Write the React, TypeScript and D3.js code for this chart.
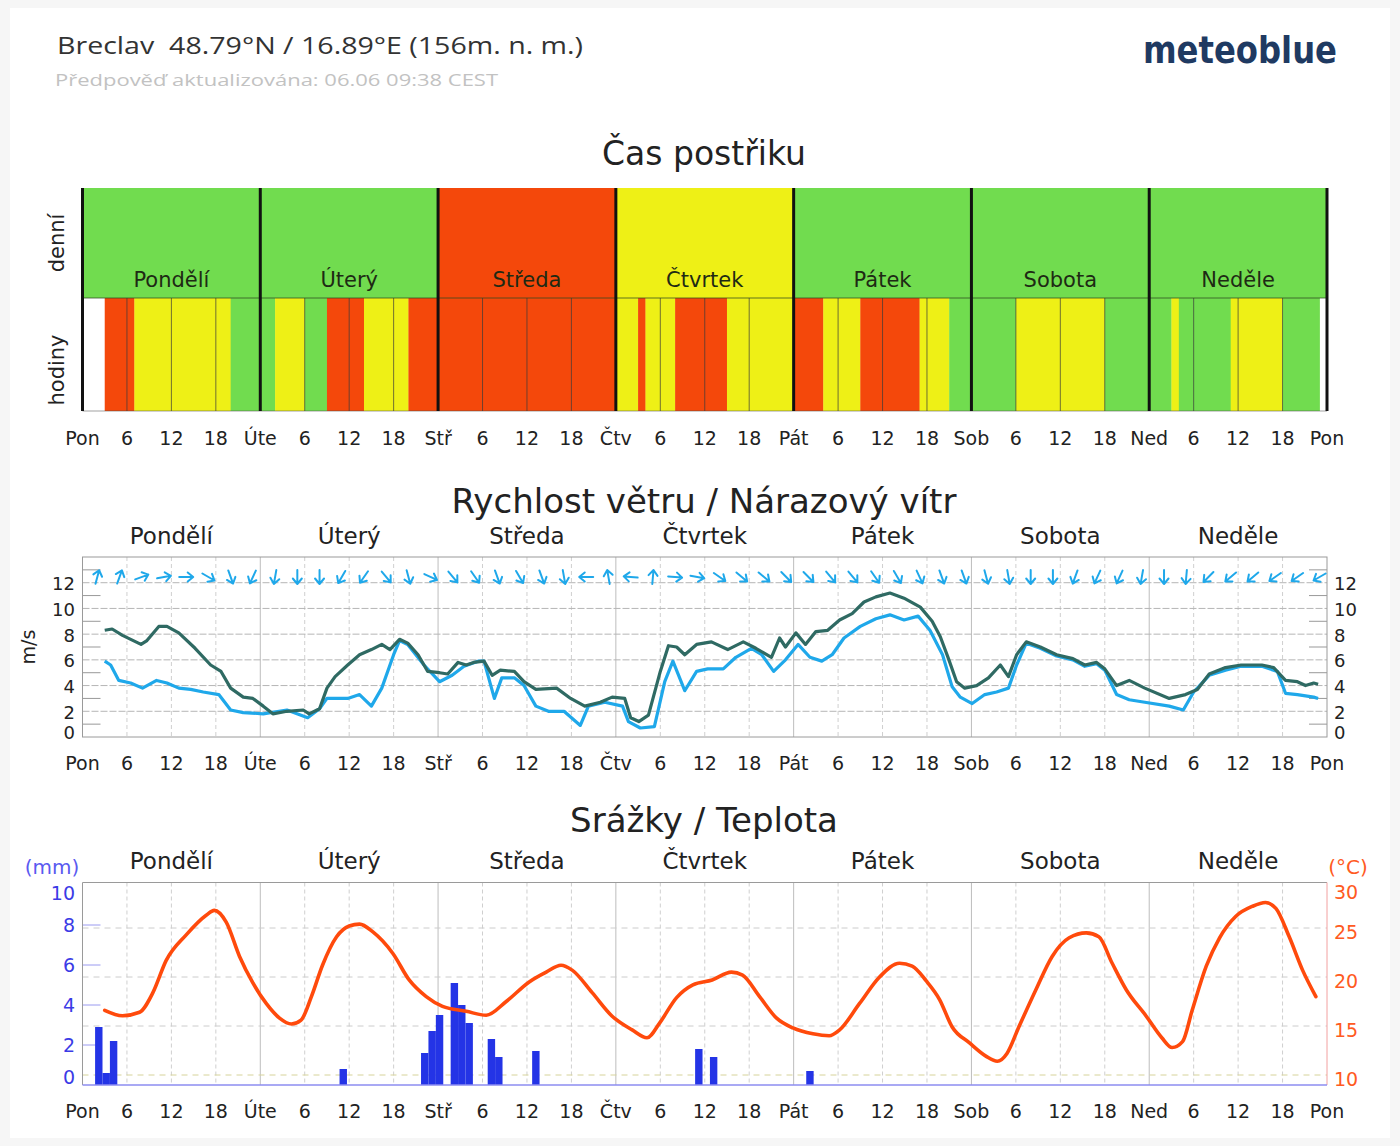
import React from "react";
import * as d3 from "d3";

// ---------- DATA ----------
const dayAbbr = ["Pon", "Úte", "Stř", "Čtv", "Pát", "Sob", "Ned", "Pon"];
const dayNames = ["Pondělí", "Úterý", "Středa", "Čtvrtek", "Pátek", "Sobota", "Neděle"];
const hourTicks = ["6", "12", "18"];

// spray suitability: G = good, Y = moderate, R = bad, n = no data
const dailySpray = ["G", "G", "R", "Y", "G", "G", "G"];
const hourlySprayRuns: [string, number][] = [
  ["n", 3], ["R", 4], ["Y", 13], ["G", 4],
  ["G", 2], ["Y", 4], ["G", 3], ["R", 5], ["Y", 6], ["R", 4],
  ["R", 24],
  ["Y", 3], ["R", 1], ["Y", 4], ["R", 7], ["Y", 9],
  ["R", 4], ["Y", 5], ["R", 8], ["Y", 4], ["G", 3],
  ["G", 6], ["Y", 12], ["G", 6],
  ["G", 3], ["Y", 1], ["G", 7], ["Y", 7], ["G", 5], ["n", 1],
];

// wind [hour, m/s]
const gustSeries: [number, number][] = [
  [3, 8.3], [4, 8.4], [5.4, 7.9], [7.9, 7.2], [8.7, 7.5], [10.3, 8.6], [11.4, 8.6], [13, 8.1], [15.2, 6.9], [17.3, 5.6],
  [18.7, 5.1], [20, 3.8], [21.7, 3.1], [23, 3.0], [24.4, 2.4], [25.7, 1.8], [27.6, 2.0], [29.8, 2.1], [30.6, 1.8], [32, 2.2],
  [33, 3.8], [34.1, 4.7], [35.8, 5.6], [37.4, 6.4], [39, 6.8], [40.4, 7.2], [41.5, 6.8], [42.8, 7.6], [43.9, 7.3], [45.3, 6.4],
  [46.6, 5.1], [48.2, 5.0], [49.3, 4.9], [50.7, 5.8], [51.8, 5.6], [52.8, 5.8], [54.2, 5.9], [55.3, 4.8], [56.4, 5.2], [58.3, 5.1],
  [59.6, 4.3], [61.2, 3.7], [64, 3.8], [65.9, 3.0], [67.8, 2.4], [69.9, 2.7], [71.5, 3.1], [73.2, 3.0], [74, 1.5], [75.1, 1.2],
  [76.4, 1.7], [78, 5.1], [79.1, 7.1], [80.2, 7.0], [81.3, 6.4], [82.9, 7.2], [84.9, 7.4], [87.1, 6.8], [89.2, 7.4], [90.9, 6.9],
  [93, 6.2], [94.1, 7.7], [94.9, 7.0], [96.3, 8.1], [97.6, 7.2], [99, 8.2], [100.6, 8.3], [102.2, 9.1], [103.9, 9.6], [105.5, 10.5],
  [107.1, 10.9], [109, 11.2], [110.9, 10.8], [113.1, 10.1], [114.7, 9.0], [115.8, 7.8], [116.9, 6.1], [118, 4.3], [119.1, 3.8], [120.7, 4.0],
  [122.3, 4.6], [123.9, 5.6], [125, 4.7], [126.1, 6.4], [127.4, 7.4], [129.3, 7.0], [131.5, 6.4], [133.7, 6.1], [135.3, 5.6], [136.9, 5.8],
  [138, 5.3], [139.6, 4.0], [141.3, 4.4], [143.4, 3.8], [146.7, 3.0], [148.9, 3.3], [150.5, 3.7], [152.1, 4.9], [154.3, 5.4], [156.4, 5.6],
  [159.2, 5.6], [160.8, 5.4], [162.4, 4.4], [164, 4.3], [165.1, 4.0], [166.2, 4.2], [166.8, 4.1],
];
const windSeries: [number, number][] = [
  [3, 5.9], [3.8, 5.6], [4.9, 4.4], [6.5, 4.2], [8.1, 3.8], [10, 4.4], [11.4, 4.2], [13, 3.8], [14.6, 3.7], [16.3, 3.5],
  [18.4, 3.3], [20, 2.1], [21.7, 1.9], [24.4, 1.8], [27.6, 2.1], [29.5, 1.7], [30.4, 1.5], [32, 2.2], [33, 3.0], [35.8, 3.0],
  [37.4, 3.3], [39, 2.4], [40.4, 3.8], [42, 6.4], [42.8, 7.5], [43.9, 7.2], [46.1, 5.6], [48.2, 4.3], [49.9, 4.8], [51.5, 5.5],
  [53.4, 5.9], [54.2, 5.9], [55.6, 3.0], [56.6, 4.6], [58.3, 4.6], [59.6, 4.0], [61.2, 2.4], [62.9, 2.0], [65, 2.0], [67.2, 0.9],
  [68.3, 2.4], [70.5, 2.7], [72.9, 2.4], [73.7, 1.2], [75.3, 0.7], [77.2, 0.8], [78.6, 4.3], [79.7, 5.9], [81.3, 3.6], [82.9, 5.1],
  [84.4, 5.3], [86.5, 5.3], [88.2, 6.2], [90.3, 6.9], [91.7, 6.4], [93.3, 5.1], [94.9, 6.0], [96.6, 7.2], [98.2, 6.2], [99.8, 5.9],
  [101.2, 6.4], [102.8, 7.7], [105, 8.6], [107.1, 9.2], [109, 9.5], [110.9, 9.1], [112.8, 9.4], [114.4, 8.3], [116.1, 6.4], [117.4, 3.9],
  [118.5, 3.1], [120.1, 2.6], [121.8, 3.3], [123.4, 3.5], [125, 3.8], [126.1, 5.6], [127.4, 7.3], [129.3, 6.9], [131.5, 6.3], [133.7, 6.0],
  [135.3, 5.5], [136.9, 5.7], [138, 5.2], [139.6, 3.3], [141.3, 2.9], [143.4, 2.7], [146.7, 2.4], [148.6, 2.1], [150, 3.5], [152.1, 4.8],
  [154.3, 5.2], [156.4, 5.5], [159.2, 5.5], [161.3, 5.1], [162.4, 3.4], [164, 3.3], [166.2, 3.1], [166.8, 3.0],
];
// wind arrows every 3 h from hour 2; direction the arrow points (deg, 0 = up, clockwise)
const arrowAngles = [
  15, 20, 70, 80, 90, 120, 160, 205, 190, 180, 180, 210, 215, 140, 165, 115, 140, 145, 160, 150,
  160, 170, 270, 350, 275, 5, 95, 100, 125, 130, 130, 135, 135, 140, 140, 145, 150, 155, 160, 160,
  165, 170, 180, 180, 200, 205, 205, 190, 180, 185, 225, 230, 230, 235, 235, 240,
];

// precipitation [hour, mm]
const precipSeries: [number, number][] = [
  [2, 2.9], [3, 0.6], [4, 2.2], [35, 0.8], [46, 1.6], [47, 2.7], [48, 3.5], [50, 5.1], [51, 4.0], [52, 3.1],
  [55, 2.3], [56, 1.4], [61, 1.7], [83, 1.8], [85, 1.4], [98, 0.7],
];
// temperature [hour, °C]
const tempSeries: [number, number][] = [
  [3, 16.6], [5.4, 16.05], [7.7, 16.4], [9.5, 18.4], [11.3, 21.7], [14, 24.3], [16.7, 26.3], [17.8, 26.8], [19.4, 25.6], [21.2, 22.1],
  [23, 19.4], [24.8, 17.3], [26.6, 15.8], [28.2, 15.2], [29.5, 15.6], [30.9, 18.0], [32.4, 21.2], [34.3, 24.1], [36, 25.2], [37.4, 25.4],
  [39.2, 24.6], [41.9, 22.4], [44.1, 19.7], [46.4, 18.0], [48.6, 17.0], [51.8, 16.5], [54.5, 16.1], [57.2, 17.5], [60.3, 19.5], [62.6, 20.5],
  [64.6, 21.2], [66.1, 20.7], [68.8, 18.4], [71.5, 16.0], [74.2, 14.6], [76.2, 13.8], [77.9, 15.3], [80.2, 17.9], [82.4, 19.2], [85, 19.7],
  [87.6, 20.5], [89.1, 20.2], [91.4, 18.0], [93.7, 15.8], [95.9, 14.8], [98.6, 14.2], [100.8, 14.0], [102.2, 14.6], [104.9, 17.3], [107.6, 20.0],
  [110.3, 21.4], [112, 21.1], [113.9, 19.6], [115.7, 17.7], [117.4, 14.9], [119.7, 13.3], [122, 11.9], [123.5, 11.4], [124.8, 12.2], [126.4, 14.9],
  [128.7, 18.7], [130.9, 22.1], [133.2, 24.0], [135.5, 24.5], [137.2, 24.1], [139, 21.4], [140.9, 18.7], [143.6, 16.0], [145.7, 13.8], [147.1, 12.8],
  [148.5, 13.4], [149.8, 16.6], [151.7, 21.1], [153.5, 24.0], [155.7, 26.2], [157.9, 27.2], [159.7, 27.6], [161.1, 27.0], [162.9, 24.1], [164.7, 20.7],
  [166.5, 18.0],
];

const windTicks = [0, 2, 4, 6, 8, 10, 12];
const mmTicks = [0, 2, 4, 6, 8, 10];
const tempTicks = [10, 15, 20, 25, 30];

// ---------- STYLE ----------
const FONT = "DejaVu Sans, Verdana, sans-serif";
const sprayColor: Record<string, string> = { G: "#71dc4f", Y: "#eef016", R: "#f4480b" };
const GUST = "#2f6a63";
const WIND = "#1fa8ea";
const TEMP = "#ff4a0c";
const RAIN = "#2434e6";

const X0 = 82.5, X1 = 1327;
const x = d3.scaleLinear().domain([0, 168]).range([X0, X1]);

function TimeAxisLabels({ y }: { y: number }) {
  const items: { h: number; t: string }[] = [];
  for (let d = 0; d < 8; d++) {
    items.push({ h: d * 24, t: dayAbbr[d] });
    if (d < 7) hourTicks.forEach((t) => items.push({ h: d * 24 + +t, t }));
  }
  return (
    <g fontFamily={FONT} fontSize={19} fill="#222" textAnchor="middle">
      {items.map((it, i) => (
        <text key={i} x={x(it.h)} y={y}>{it.t}</text>
      ))}
    </g>
  );
}

function DayNames({ y, size }: { y: number; size: number }) {
  return (
    <g fontFamily={FONT} fontSize={size} fill="#222" textAnchor="middle">
      {dayNames.map((n, d) => (
        <text key={n} x={x(d * 24 + 12)} y={y}>{n}</text>
      ))}
    </g>
  );
}

function VGrid({ top, bottom }: { top: number; bottom: number }) {
  const hs = d3.range(6, 168, 6);
  return (
    <g>
      {hs.map((h) => (
        <line key={h} x1={x(h)} x2={x(h)} y1={top} y2={bottom}
          stroke={h % 24 === 0 ? "#bdbdbd" : "#cfcfcf"} strokeWidth={1}
          strokeDasharray={h % 24 === 0 ? undefined : "4,3"} />
      ))}
    </g>
  );
}

function SprayChart() {
  const top = 188, mid = 298, bottom = 411;
  const runs: { start: number; len: number; c: string }[] = [];
  let acc = 0;
  hourlySprayRuns.forEach(([c, n]) => {
    const last = runs[runs.length - 1];
    if (last && last.c === c) last.len += n;
    else runs.push({ start: acc, len: n, c });
    acc += n;
  });
  return (
    <g>
      {dailySpray.map((c, d) => (
        <rect key={"d" + d} x={x(d * 24)} y={top} width={x(24) - x(0) + 0.5} height={mid - top} fill={sprayColor[c]} />
      ))}
      {runs.map((r, i) => r.c === "n" ? null : (
        <rect key={"h" + i} x={x(r.start)} y={mid} width={x(r.start + r.len) - x(r.start) + 0.3} height={bottom - mid} fill={sprayColor[r.c]} />
      ))}
      {d3.range(6, 168, 6).filter((h) => h % 24 !== 0).map((h) => (
        <line key={"g" + h} x1={x(h)} x2={x(h)} y1={mid} y2={bottom} stroke="#3a3a3a" strokeOpacity={0.7} strokeWidth={1} />
      ))}
      <line x1={X0} x2={X1} y1={mid} y2={mid} stroke="#2f4a22" strokeOpacity={0.75} strokeWidth={1} />
      <line x1={X0} x2={X1} y1={bottom} y2={bottom} stroke="#444" strokeOpacity={0.5} strokeWidth={1} />
      {d3.range(0, 8).map((d) => (
        <line key={"b" + d} x1={x(d * 24)} x2={x(d * 24)} y1={top} y2={bottom} stroke="#111" strokeWidth={3} />
      ))}
      <g fontFamily={FONT} fontSize={21} fill="#1e2a14" textAnchor="middle">
        {dayNames.map((n, d) => (
          <text key={n} x={x(d * 24 + 12)} y={287}>{n}</text>
        ))}
      </g>
      <g fontFamily={FONT} fontSize={21} fill="#222" textAnchor="middle">
        <text transform={`translate(64,${243}) rotate(-90)`}>denní</text>
        <text transform={`translate(64,${370}) rotate(-90)`}>hodiny</text>
      </g>
      <text x={704} y={165} fontFamily={FONT} fontSize={33} fill="#222" textAnchor="middle">Čas postřiku</text>
      <TimeAxisLabels y={445} />
    </g>
  );
}

function Arrow({ cx, cy, angle }: { cx: number; cy: number; angle: number }) {
  return (
    <g transform={`translate(${cx},${cy}) rotate(${angle})`}>
      <path d="M0,7 L0,-7 M-4.5,-1.5 L0,-7 L4.5,-1.5" fill="none" stroke={WIND} strokeWidth={2} strokeLinecap="round" strokeLinejoin="round" />
    </g>
  );
}

function WindChart() {
  const top = 557, bottom = 737;
  const y = d3.scaleLinear().domain([0, 14]).range([bottom, top]);
  const line = d3.line<[number, number]>().x((d) => x(d[0])).y((d) => y(d[1])).curve(d3.curveLinear);
  const arrowHours = d3.range(2, 168, 3);
  const labelY = (v: number) => (v === 0 ? y(0) - 5 : y(v) + 1);
  return (
    <g>
      <rect x={X0} y={top} width={X1 - X0} height={bottom - top} fill="#fff" />
      <VGrid top={top} bottom={bottom} />
      {[2, 4, 6, 8, 10, 12].map((v) => (
        <line key={v} x1={X0} x2={X1} y1={y(v)} y2={y(v)} stroke="#b5b5b5" strokeWidth={1} strokeDasharray="7,2" />
      ))}
      {[1, 3, 5, 7, 9, 11, 13].map((v) => (
        <g key={"m" + v}>
          <line x1={X0} x2={X0 + 18} y1={y(v)} y2={y(v)} stroke="#999" />
          <line x1={X1 - 18} x2={X1} y1={y(v)} y2={y(v)} stroke="#999" />
        </g>
      ))}
      <rect x={X0} y={top} width={X1 - X0} height={bottom - top} fill="none" stroke="#9a9a9a" strokeWidth={1} />
      <path d={line(windSeries) || ""} fill="none" stroke={WIND} strokeWidth={3.2} strokeLinejoin="round" />
      <path d={line(gustSeries) || ""} fill="none" stroke={GUST} strokeWidth={3.2} strokeLinejoin="round" />
      {arrowHours.map((h, i) => (
        <Arrow key={h} cx={x(h)} cy={577} angle={arrowAngles[i]} />
      ))}
      <g fontFamily={FONT} fontSize={18} fill="#222">
        {windTicks.map((v) => (
          <g key={v}>
            <text x={75} y={labelY(v)} textAnchor="end" dominantBaseline="central">{v}</text>
            <text x={1334} y={labelY(v)} textAnchor="start" dominantBaseline="central">{v}</text>
          </g>
        ))}
        <text transform={`translate(28,647) rotate(-90)`} textAnchor="middle" dominantBaseline="central" fontSize={19}>m/s</text>
      </g>
      <text x={704} y={513} fontFamily={FONT} fontSize={34} fill="#222" textAnchor="middle">Rychlost větru / Nárazový vítr</text>
      <DayNames y={544} size={23} />
      <TimeAxisLabels y={770} />
    </g>
  );
}

function PrecipChart() {
  const top = 882.5, bottom = 1085;
  const yMm = d3.scaleLinear().domain([0, 10]).range([bottom, 885]);
  const yT = d3.scaleLinear().domain([10, 30]).range([1075, 879]);
  const tLine = d3.line<[number, number]>().x((d) => x(d[0])).y((d) => yT(d[1])).curve(d3.curveMonotoneX);
  const bw = x(1) - x(0);
  return (
    <g>
      <rect x={X0} y={top} width={X1 - X0} height={bottom - top} fill="#fff" />
      <VGrid top={top} bottom={bottom} />
      {[10, 15, 20, 25].map((t) => (
        <line key={t} x1={X0} x2={X1} y1={yT(t)} y2={yT(t)} stroke={t === 10 ? "#d6d39a" : "#cccccc"} strokeWidth={1} strokeDasharray="6,5" />
      ))}
      {[2, 4, 6, 8].map((v) => (
        <line key={"mt" + v} x1={X0} x2={X0 + 18} y1={yMm(v)} y2={yMm(v)} stroke="#9a9af0" />
      ))}
      <line x1={X0} x2={X1} y1={top} y2={top} stroke="#9a9a9a" />
      <line x1={X0} x2={X0} y1={top} y2={bottom} stroke="#9a9a9a" />
      <line x1={X1} x2={X1} y1={top} y2={bottom} stroke="#f2a0a0" />
      {precipSeries.map(([h, v]) => (
        <rect key={h} x={x(h - 0.3)} y={yMm(v)} width={bw} height={bottom - yMm(v)} fill={RAIN} />
      ))}
      <line x1={X0} x2={X1} y1={bottom} y2={bottom} stroke="#8c8cf0" strokeWidth={1.5} />
      <path d={tLine(tempSeries) || ""} fill="none" stroke={TEMP} strokeWidth={3.6} strokeLinejoin="round" strokeLinecap="round" />
      <g fontFamily={FONT} fontSize={19}>
        {mmTicks.map((v) => {
          const cy = v === 10 ? yMm(v) + 8 : v === 0 ? yMm(v) - 8 : yMm(v);
          return <text key={v} x={75} y={cy} textAnchor="end" dominantBaseline="central" fill="#3b3be6">{v}</text>;
        })}
        {tempTicks.map((t) => {
          const cy = t === 30 ? 892 : yT(t) + 4;
          return <text key={t} x={1334} y={cy} textAnchor="start" dominantBaseline="central" fill="#ff5a22">{t}</text>;
        })}
        <text x={52} y={867} textAnchor="middle" dominantBaseline="central" fill="#5a5af0" fontSize={20}>(mm)</text>
        <text x={1348} y={867} textAnchor="middle" dominantBaseline="central" fill="#ff5a22" fontSize={20}>(°C)</text>
      </g>
      <text x={704} y={832} fontFamily={FONT} fontSize={34} fill="#222" textAnchor="middle">Srážky / Teplota</text>
      <DayNames y={869} size={23} />
      <TimeAxisLabels y={1118} />
    </g>
  );
}

export default function App() {
  return (
    <div style={{ position: "absolute", left: 0, top: 0 }}>
      <svg width={1400} height={1146} viewBox="0 0 1400 1146" xmlns="http://www.w3.org/2000/svg">
        <rect x={0} y={0} width={1400} height={1146} fill="#f6f6f6" />
        <rect x={10} y={8} width={1380} height={1130} fill="#ffffff" />
        <text x={57} y={54} fontFamily="Open Sans, sans-serif" fontSize={24} fill="#333" textLength={526} lengthAdjust="spacingAndGlyphs" style={{ whiteSpace: "pre" }}>
          {"Breclav  48.79°N / 16.89°E (156m. n. m.)"}
        </text>
        <text x={55} y={86} fontFamily="Open Sans, sans-serif" fontSize={17} fill="#c2c2c2" textLength={443} lengthAdjust="spacingAndGlyphs">
          Předpověď aktualizována: 06.06 09:38 CEST
        </text>
        <text x={1143} y={63} fontFamily="DejaVu Sans, sans-serif" fontWeight="bold" fontSize={38} fill="#1f3a62" textLength={194} lengthAdjust="spacingAndGlyphs">
          meteoblue
        </text>
        <SprayChart />
        <WindChart />
        <PrecipChart />
      </svg>
    </div>
  );
}
